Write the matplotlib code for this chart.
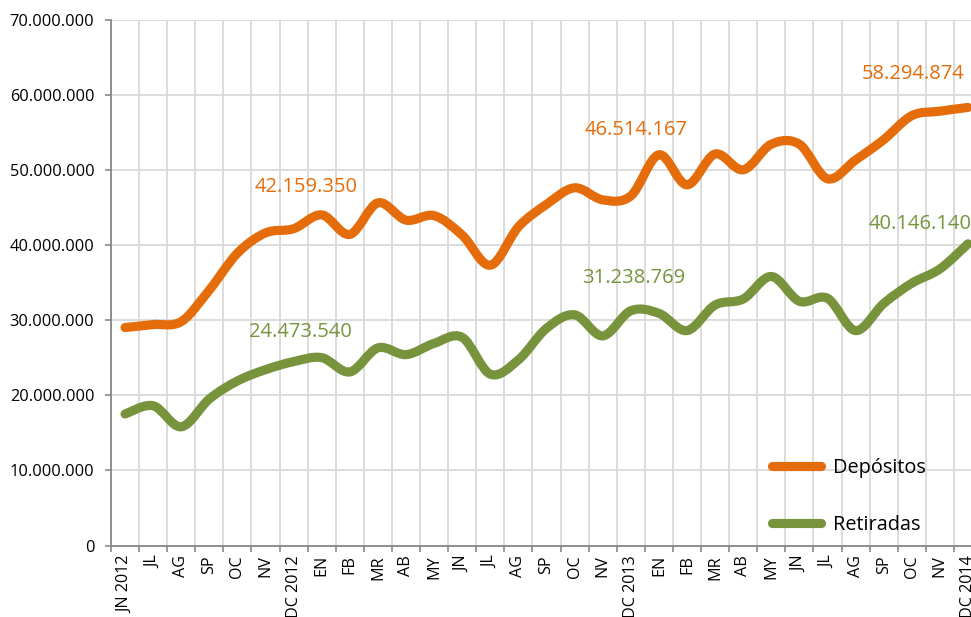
import numpy as np
import matplotlib
matplotlib.use("Agg")
import matplotlib.pyplot as plt
from matplotlib.path import Path
from matplotlib.patches import PathPatch
from matplotlib.lines import Line2D
from matplotlib.ticker import FuncFormatter, FixedLocator

plt.rcParams['font.family'] = ['Open Sans', 'DejaVu Sans']

months = ["JN 2012", "JL", "AG", "SP", "OC", "NV", "DC 2012",
          "EN", "FB", "MR", "AB", "MY", "JN", "JL", "AG", "SP", "OC", "NV", "DC 2013",
          "EN", "FB", "MR", "AB", "MY", "JN", "JL", "AG", "SP", "OC", "NV", "DC 2014"]

depositos = [29.0e6, 29.4e6, 29.8e6, 34.0e6, 38.9e6, 41.6e6, 42159350,
             44.0e6, 41.4e6, 45.6e6, 43.3e6, 43.9e6, 41.3e6, 37.3e6, 42.4e6, 45.4e6,
             47.6e6, 46.0e6, 46514167,
             52.0e6, 48.0e6, 52.1e6, 50.0e6, 53.4e6, 53.4e6, 48.8e6, 51.3e6, 54.0e6,
             57.2e6, 57.8e6, 58294874]

retiradas = [17.5e6, 18.6e6, 15.8e6, 19.5e6, 21.9e6, 23.4e6, 24473540,
             25.0e6, 23.1e6, 26.3e6, 25.4e6, 26.9e6, 27.7e6, 22.8e6, 24.7e6, 28.9e6,
             30.7e6, 27.9e6, 31238769,
             30.9e6, 28.6e6, 32.0e6, 32.8e6, 35.8e6, 32.5e6, 32.9e6, 28.6e6, 32.2e6,
             34.9e6, 36.8e6, 40146140]

yticks = [0, 10e6, 20e6, 30e6, 40e6, 50e6, 60e6, 70e6]

ORANGE = "#E46C0A"
GREEN = "#77933C"


def smooth_path(x, y):
    """Catmull-Rom style smoothing expressed as cubic Bezier segments."""
    pts = np.column_stack([x, y]).astype(float)
    ext = np.vstack([pts[0], pts, pts[-1]])
    verts = [pts[0]]
    codes = [Path.MOVETO]
    for i in range(len(pts) - 1):
        p0, p1, p2, p3 = ext[i], ext[i + 1], ext[i + 2], ext[i + 3]
        c1 = p1 + (p2 - p0) / 6.0
        c2 = p2 - (p3 - p1) / 6.0
        verts += [c1, c2, p2]
        codes += [Path.CURVE4] * 3
    return Path(verts, codes)


def fmt_thousands(v, pos=None):
    v = int(round(v))
    if v == 0:
        return "0"
    return f"{v:,}".replace(",", ".")


fig = plt.figure(figsize=(9.71, 6.17), dpi=100)
ax = fig.add_axes([111 / 971, (617 - 545.5) / 617, 871 / 971, 526 / 617])

x = np.arange(len(months))
series = [(depositos, ORANGE, "Depósitos"), (retiradas, GREEN, "Retiradas")]
for vals, col, name in series:
    patch = PathPatch(smooth_path(x, vals), facecolor="none", edgecolor=col,
                      lw=6.6, capstyle="round", joinstyle="round", zorder=3)
    ax.add_patch(patch)

ax.set_xlim(-0.5, len(months) - 0.5)
ax.set_ylim(0, 70e6)

# category boundaries carry the tick marks and vertical grid; labels sit at the centres
ax.xaxis.set_major_locator(FixedLocator(np.arange(-0.5, len(months), 1.0)))
ax.xaxis.set_minor_locator(FixedLocator(x))
ax.set_xticklabels([], minor=False)
ax.set_xticklabels(months, minor=True, rotation=90, fontsize=11.6, color="#000000")
ax.tick_params(axis="x", which="major", length=4, width=1.2, color="#878787", direction="out")
ax.tick_params(axis="x", which="minor", length=0, pad=7.0)

ax.yaxis.set_major_locator(FixedLocator(yticks))
ax.yaxis.set_major_formatter(FuncFormatter(fmt_thousands))
ax.tick_params(axis="y", length=4, width=1.2, color="#878787", pad=8.0, labelsize=11.8,
               labelcolor="#000000")

ax.grid(True, which="major", color="#D9D9D9", lw=1.3)
ax.set_axisbelow(True)
for side in ("top", "right"):
    ax.spines[side].set_visible(False)
for side in ("left", "bottom"):
    ax.spines[side].set_color("#878787")
    ax.spines[side].set_linewidth(1.3)
    ax.spines[side].set_zorder(4)

# value labels at the December points
labels = [
    (depositos, 6, ORANGE, (12.5, 42)),
    (retiradas, 6, GREEN, (6.5, 30)),
    (depositos, 18, ORANGE, (5, 66)),
    (retiradas, 18, GREEN, (3, 33)),
    (depositos, 30, ORANGE, (-54.5, 33)),
    (retiradas, 30, GREEN, (-48, 19.5)),
]
for vals, i, col, off in labels:
    ax.annotate(fmt_thousands(vals[i]), xy=(i, vals[i]), xytext=off,
                textcoords="offset pixels", ha="center", va="center",
                fontsize=14.5, color=col, annotation_clip=False, zorder=5)

handles = [Line2D([], [], color=c, lw=6.6, solid_capstyle="round") for _, c, _ in series]
leg = fig.legend(handles, [n for _, _, n in series], loc="upper left",
                 bbox_to_anchor=(772 / 971, 1 - 458 / 617), frameon=False,
                 fontsize=14.3, handlelength=2.45, handletextpad=0.62,
                 labelspacing=1.85, borderpad=0, borderaxespad=0)
for t in leg.get_texts():
    t.set_color("#000000")

fig.savefig("out.png", dpi=100)
